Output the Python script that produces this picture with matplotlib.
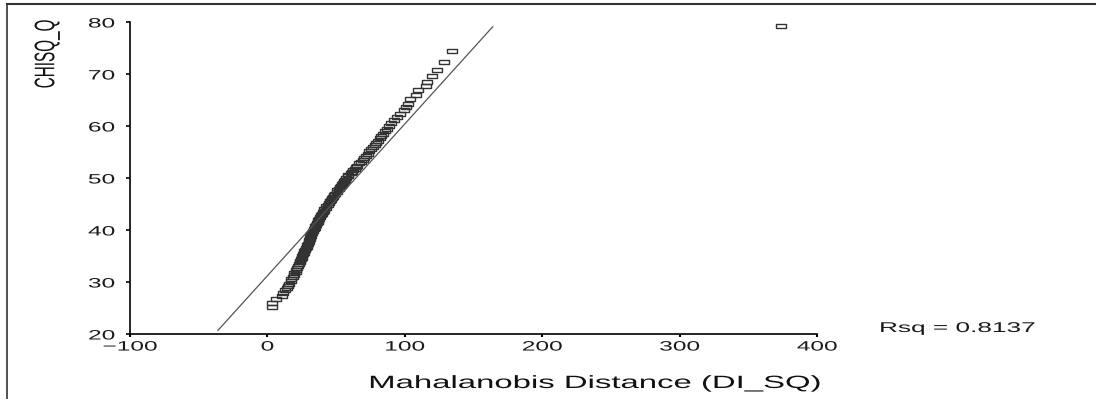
import matplotlib
matplotlib.use('Agg')
import matplotlib.pyplot as plt
from matplotlib.patheffects import AbstractPathEffect
from matplotlib.transforms import Affine2D
from matplotlib.lines import Line2D

plt.rcParams['font.family'] = ['Liberation Sans', 'DejaVu Sans']

# Mahalanobis distance (x) and chi-square quantile (y)
dist = [3.0, 3.5, 6.5, 10.5, 11.5, 13.0, 14.5, 15.0, 16.0, 17.0,
        17.5, 18.5, 19.0, 19.5, 20.5, 21.0, 21.5, 22.5, 23.0, 23.5,
        24.0, 24.5, 25.0, 25.5, 26.0, 26.5, 27.0, 27.5, 28.0, 28.5,
        29.0, 29.5, 30.0, 30.5, 31.0, 31.0, 31.5, 32.0, 32.5, 33.5,
        34.0, 34.5, 35.0, 35.5, 36.0, 36.5, 37.0, 37.5, 38.5, 39.0,
        39.5, 40.5, 41.0, 41.5, 42.5, 43.0, 44.0, 44.5, 45.5, 46.5,
        47.0, 48.0, 48.5, 49.5, 50.5, 51.0, 52.0, 52.5, 53.5, 54.5,
        55.0, 56.0, 56.5, 57.5, 58.5, 59.0, 60.5, 61.5, 62.5, 63.5,
        64.5, 65.5, 67.0, 68.0, 69.5, 70.5, 71.5, 73.0, 74.0, 75.5,
        76.5, 78.0, 79.0, 80.5, 82.0, 83.0, 84.0, 85.5, 87.0, 88.5,
        90.0, 92.0, 94.0, 96.5, 99.5, 101.0, 102.5, 103.5, 108.5, 109.5,
        115.5, 116.0, 120.0, 123.5, 128.5, 134.5, 374.0]
chisq_q = [25.2, 25.9, 26.7, 27.4, 27.9, 28.4, 28.9, 29.3, 29.7, 30.1,
           30.5, 30.9, 31.3, 31.7, 32.0, 32.4, 32.7, 33.1, 33.4, 33.8,
           34.1, 34.4, 34.7, 35.0, 35.3, 35.6, 35.9, 36.2, 36.5, 36.8,
           37.1, 37.4, 37.7, 38.0, 38.3, 38.6, 38.9, 39.2, 39.5, 39.8,
           40.1, 40.4, 40.7, 41.0, 41.3, 41.6, 41.9, 42.2, 42.5, 42.8,
           43.1, 43.4, 43.7, 44.0, 44.3, 44.6, 44.9, 45.2, 45.5, 45.8,
           46.1, 46.4, 46.7, 47.0, 47.3, 47.6, 47.9, 48.2, 48.5, 48.8,
           49.1, 49.4, 49.7, 50.0, 50.3, 50.6, 50.9, 51.2, 51.5, 51.8,
           52.1, 52.4, 52.8, 53.1, 53.5, 53.9, 54.3, 54.7, 55.1, 55.5,
           55.9, 56.3, 56.7, 57.1, 57.6, 58.0, 58.5, 59.0, 59.5, 60.0,
           60.5, 61.1, 61.7, 62.3, 63.0, 63.6, 64.3, 65.1, 66.0, 66.9,
           67.6, 68.5, 69.6, 70.8, 72.3, 74.5, 79.2]

# reference line
fit_x = [-36, 164]
fit_a, fit_b = 31.2, 0.292

x_ticks = [-100, 0, 100, 200, 300, 400]
y_ticks = [20, 30, 40, 50, 60, 70, 80]
rsq = 0.8137


# the source image is stretched sideways, so widen the glyphs the same way
class Widen(AbstractPathEffect):
    def __init__(self, sx, anchor='center'):
        super().__init__()
        self.sx = sx
        self.anchor = anchor

    def draw_path(self, renderer, gc, tpath, affine, rgbFace=None):
        bb = tpath.get_extents(affine)
        x0 = {'left': bb.x0, 'center': (bb.x0 + bb.x1) / 2, 'right': bb.x1}[self.anchor]
        aff = affine + Affine2D().translate(-x0, 0).scale(self.sx, 1).translate(x0, 0)
        renderer.draw_path(gc, tpath, aff, rgbFace)


SX = 1.85
W, H = 1096, 399
fig = plt.figure(figsize=(W / 100, H / 100), dpi=100)
ax = fig.add_axes([130 / W, 1 - 334 / H, 687 / W, 312 / H])

# hollow rectangular markers
rect = [(-1, -0.45), (1, -0.45), (1, 0.45), (-1, 0.45), (-1, -0.45)]
ax.plot(dist, chisq_q, ls='none', marker=rect, markersize=6.5,
        mfc='none', mec='#333333', mew=1.0)

fit_y = [fit_a + fit_b * x for x in fit_x]
ax.plot(fit_x, fit_y, color='#555555', lw=0.9)

ax.set_xlim(-100, 400)
ax.set_ylim(20, 80)
ax.set_xticks(x_ticks)
ax.set_yticks(y_ticks)
ax.set_xticklabels(['\u2212100' if t < 0 else str(t) for t in x_ticks])
ax.set_yticklabels([str(t) for t in y_ticks])
for s in ['top', 'right']:
    ax.spines[s].set_visible(False)
for s in ['left', 'bottom']:
    ax.spines[s].set_linewidth(1.2)
ax.tick_params(axis='y', length=3, width=1.2, pad=8, labelsize=9.8, labelcolor='#1a1a1a')
ax.tick_params(axis='x', length=2, width=1.5, pad=2, labelsize=9.8, labelcolor='#1a1a1a')
for lbl in ax.get_xticklabels():
    lbl.set_path_effects([Widen(1.8, 'center')])
for lbl in ax.get_yticklabels():
    lbl.set_path_effects([Widen(1.8, 'right')])

fig.text(595 / W, 1 - 388 / H, 'Mahalanobis Distance (DI_SQ)', ha='center', va='baseline',
         fontsize=12.8, color='#111111', path_effects=[Widen(SX, 'center')])
fig.text(47 / W, 1 - 54 / H, 'CHISQ_Q', ha='center', va='center', rotation=90,
         fontsize=11, color='#111111', path_effects=[Widen(SX, 'center')])
fig.text(880 / W, 1 - 332 / H, f'Rsq = {rsq:.4f}', ha='left', va='baseline',
         fontsize=10.2, color='#1a1a1a', path_effects=[Widen(SX, 'left')])

# frame lines at the top and left edges
fig.add_artist(Line2D([7 / W, 1], [1 - 4 / H, 1 - 4 / H], color='#333333', lw=1.5))
fig.add_artist(Line2D([7 / W, 7 / W], [0, 1 - 4 / H], color='#333333', lw=1.2))

fig.savefig('out.png', dpi=100)
